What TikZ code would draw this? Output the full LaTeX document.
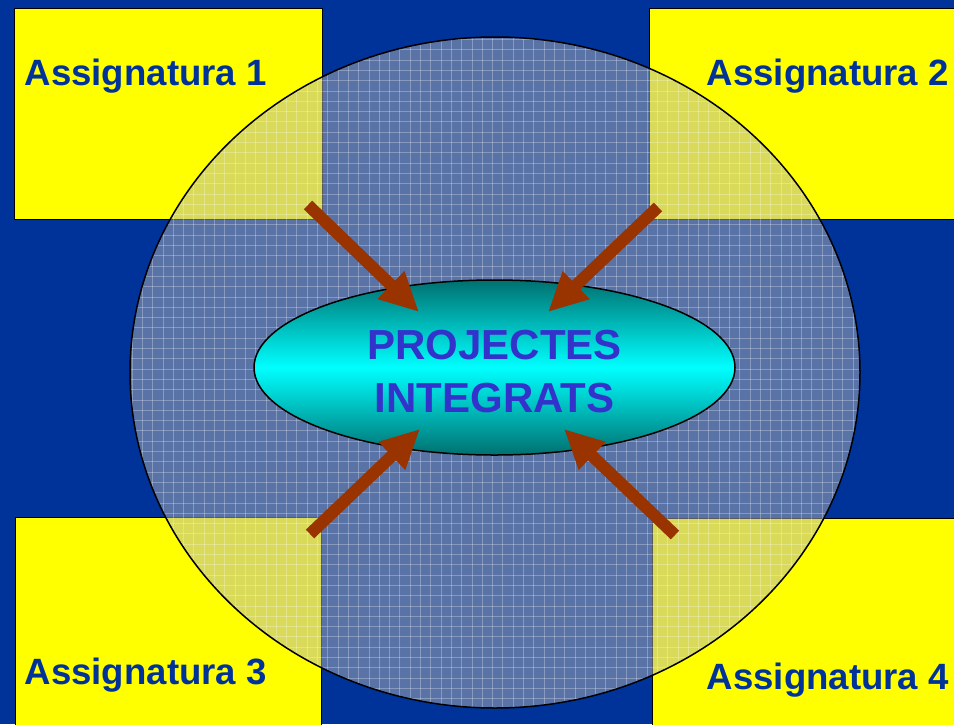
\documentclass[tikz,border=0pt]{standalone}
\usepackage{fontspec}
\setmainfont{Liberation Sans}
\usetikzlibrary{shapes.geometric,arrows.meta,positioning}

\definecolor{bgblue}{RGB}{0,51,153}
\definecolor{boxyellow}{RGB}{255,255,0}
\definecolor{veilgrey}{RGB}{180,180,180}
\definecolor{rust}{RGB}{153,51,0}
\definecolor{titleblue}{RGB}{51,51,204}
\definecolor{darkteal}{RGB}{0,112,112}

\begin{document}
\begin{tikzpicture}[x=1pt, y=-1pt,
    box/.style={draw=black, line width=1pt, fill=boxyellow, minimum width=#1, minimum height=211pt, inner sep=0pt},
    boxlabel/.style={anchor=base west, text=bgblue, inner sep=0pt, font=\fontsize{36.6}{44}\selectfont\bfseries},
    gridline/.style={draw=white, draw opacity=0.28, line width=0.8pt},
    push/.style={draw=rust, line width=12pt, -{Triangle[length=39pt, width=36pt]}}]
            \useasboundingbox (0,0) rectangle (954,724);
            \fill[bgblue] (0,0) rectangle (954,724);

            % Subjects
            \node[box=308pt] (assignatura_1) at (168,113.5) {};
            \node[box=331pt] (assignatura_2) at (814.5,113.5) {};
            \node[box=306pt, minimum height=223pt] (assignatura_3) at (168,628.5) {};
            \node[box=328pt, minimum height=222pt] (assignatura_4) at (816,629) {};
            \node[boxlabel] (label_1) at ([shift={(11,78)}]assignatura_1.north west) {Assignatura 1};
            \node[boxlabel] (label_2) at ([shift={(58,78)}]assignatura_2.north west) {Assignatura 2};
            \node[boxlabel] (label_3) at ([shift={(10,168)}]assignatura_3.north west) {Assignatura 3};
            \node[boxlabel] (label_4) at ([shift={(55,172)}]assignatura_4.north west) {Assignatura 4};

            % Veil
            \begin{scope}
                \clip (495,372.5) ellipse [x radius=365, y radius=335.5];
                \fill[veilgrey, fill opacity=0.5] (120,30) rectangle (870,715);
                \foreach \i in {0,...,73}
                    \draw[gridline] ({121.7+10.3*\i},30) -- ({121.7+10.3*\i},715);
                \foreach \j in {0,...,66}
                    \draw[gridline] (120,{29.1+10.3*\j}) -- (870,{29.1+10.3*\j});
            \end{scope}
            \draw[black, line width=1.5pt] (495,372.5) ellipse [x radius=365, y radius=335.5];

            % Projects
            \node[ellipse, draw=black, line width=1.5pt, minimum width=481pt, minimum height=175pt, inner sep=0pt,
                  top color=darkteal, bottom color=darkteal, middle color=cyan] (projectes) at (494.5,367.5) {};
            \node[text=titleblue, align=center, inner sep=0pt, font=\fontsize{42}{52.5}\selectfont\bfseries,
                  yshift=-4pt] (projectes_text) at (projectes.center) {PROJECTES\\INTEGRATS};

            % Arrows
            \coordinate (from_1) at (308,205);
            \coordinate (to_1) at (419,312);
            \coordinate (from_2) at (658,207);
            \coordinate (to_2) at (548,312);
            \coordinate (from_3) at (310,534);
            \coordinate (to_3) at (420,429);
            \coordinate (from_4) at (675,535);
            \coordinate (to_4) at (564,429);
            \foreach \k in {1,...,4}
                \draw[push] (from_\k) -- (to_\k);
        \end{tikzpicture}
\end{document}
